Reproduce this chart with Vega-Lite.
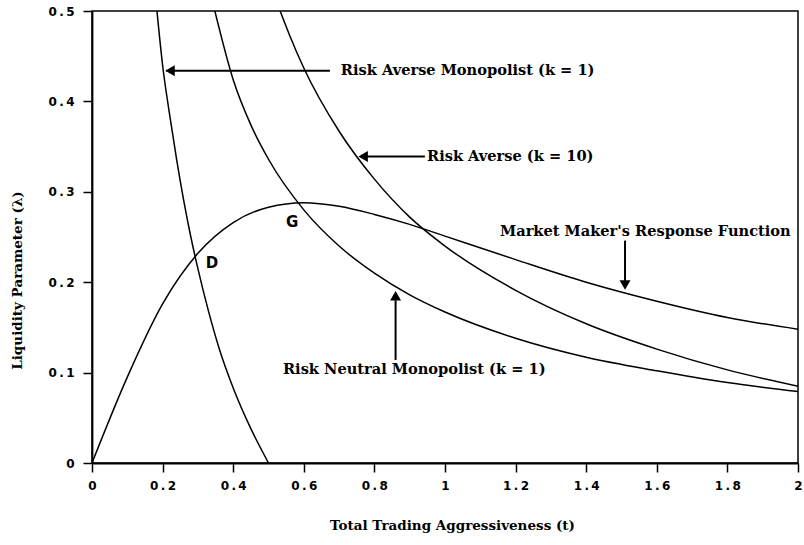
{
  "$schema": "https://vega.github.io/schema/vega-lite/v6.json",
  "width": 706,
  "height": 452,
  "autosize": {"type": "none"},
  "padding": {"left": 92, "top": 11, "right": 6, "bottom": 82},
  "background": "white",
  "config": {
    "view": {"stroke": "black", "strokeWidth": 1.5},
    "axis": {
      "domainColor": "black", "domainWidth": 1.8,
      "tickColor": "black", "tickWidth": 1.5, "tickSize": 9,
      "grid": false,
      "labelFont": "DejaVu Sans", "labelFontSize": 12, "labelFontWeight": "bold", "labelColor": "black",
      "titleFont": "DejaVu Serif", "titleFontSize": 13.5, "titleFontWeight": "bold", "titleColor": "black"
    }
  },
  "datasets": {
    "curves": [
      {"c": "A", "t": 0.184, "l": 0.5}, {"c": "A", "t": 0.2, "l": 0.44}, {"c": "A", "t": 0.22, "l": 0.385},
      {"c": "A", "t": 0.24, "l": 0.335}, {"c": "A", "t": 0.26, "l": 0.29}, {"c": "A", "t": 0.28, "l": 0.25},
      {"c": "A", "t": 0.3, "l": 0.215}, {"c": "A", "t": 0.33, "l": 0.168}, {"c": "A", "t": 0.36, "l": 0.127},
      {"c": "A", "t": 0.4, "l": 0.083}, {"c": "A", "t": 0.45, "l": 0.038}, {"c": "A", "t": 0.5, "l": 0.0},
      {"c": "B", "t": 0.348, "l": 0.5}, {"c": "B", "t": 0.4, "l": 0.424}, {"c": "B", "t": 0.45, "l": 0.374},
      {"c": "B", "t": 0.5, "l": 0.336}, {"c": "B", "t": 0.6, "l": 0.28}, {"c": "B", "t": 0.7, "l": 0.24},
      {"c": "B", "t": 0.8, "l": 0.21}, {"c": "B", "t": 0.9, "l": 0.186}, {"c": "B", "t": 1.0, "l": 0.167},
      {"c": "B", "t": 1.2, "l": 0.138}, {"c": "B", "t": 1.4, "l": 0.117}, {"c": "B", "t": 1.6, "l": 0.102},
      {"c": "B", "t": 1.8, "l": 0.089}, {"c": "B", "t": 2.0, "l": 0.079},
      {"c": "C", "t": 0.533, "l": 0.5}, {"c": "C", "t": 0.56, "l": 0.473}, {"c": "C", "t": 0.6, "l": 0.437},
      {"c": "C", "t": 0.7, "l": 0.367}, {"c": "C", "t": 0.8, "l": 0.314}, {"c": "C", "t": 0.9, "l": 0.272},
      {"c": "C", "t": 1.0, "l": 0.24}, {"c": "C", "t": 1.2, "l": 0.191}, {"c": "C", "t": 1.4, "l": 0.154},
      {"c": "C", "t": 1.6, "l": 0.126}, {"c": "C", "t": 1.8, "l": 0.103}, {"c": "C", "t": 2.0, "l": 0.085},
      {"c": "D", "t": 0.0, "l": 0.0}, {"c": "D", "t": 0.1, "l": 0.095}, {"c": "D", "t": 0.2, "l": 0.176},
      {"c": "D", "t": 0.3, "l": 0.232}, {"c": "D", "t": 0.4, "l": 0.266}, {"c": "D", "t": 0.5, "l": 0.283},
      {"c": "D", "t": 0.6, "l": 0.288}, {"c": "D", "t": 0.7, "l": 0.284}, {"c": "D", "t": 0.8, "l": 0.275},
      {"c": "D", "t": 0.9, "l": 0.264}, {"c": "D", "t": 1.0, "l": 0.251}, {"c": "D", "t": 1.2, "l": 0.225},
      {"c": "D", "t": 1.4, "l": 0.2}, {"c": "D", "t": 1.6, "l": 0.179}, {"c": "D", "t": 1.8, "l": 0.161},
      {"c": "D", "t": 2.0, "l": 0.148}
    ],
    "arrows": [
      {"t1": 0.21, "l1": 0.434, "t2": 0.674, "l2": 0.434},
      {"t1": 0.775, "l1": 0.339, "t2": 0.943, "l2": 0.339},
      {"t1": 1.51, "l1": 0.246, "t2": 1.51, "l2": 0.2},
      {"t1": 0.86, "l1": 0.114, "t2": 0.86, "l2": 0.18}
    ],
    "heads": [
      {"dir": "left", "t": 0.221, "l": 0.434},
      {"dir": "left", "t": 0.768, "l": 0.339},
      {"dir": "down", "t": 1.51, "l": 0.197},
      {"dir": "up", "t": 0.86, "l": 0.185}
    ],
    "labels": [
      {"text": "Risk Averse Monopolist (k = 1)", "t": 0.705, "l": 0.434},
      {"text": "Risk Averse (k = 10)", "t": 0.949, "l": 0.339},
      {"text": "Market Maker's Response Function", "t": 1.156, "l": 0.256},
      {"text": "Risk Neutral Monopolist (k = 1)", "t": 0.541, "l": 0.103}
    ],
    "points": [
      {"text": "D", "t": 0.34, "l": 0.221},
      {"text": "G", "t": 0.567, "l": 0.267}
    ]
  },
  "layer": [
    {
      "data": {"name": "curves"},
      "mark": {"type": "line", "color": "black", "strokeWidth": 1.5, "interpolate": "monotone", "clip": true},
      "encoding": {
        "x": {"field": "t", "type": "quantitative", "scale": {"domain": [0, 2], "nice": false},
          "axis": {
            "values": [0, 0.1, 0.2, 0.3, 0.4, 0.5, 0.6, 0.7, 0.8, 0.9, 1, 1.1, 1.2, 1.3, 1.4, 1.5, 1.6, 1.7, 1.8, 1.9, 2],
            "labelExpr": "round(datum.value * 10) % 2 == 0 ? join(split('' + datum.value, ''), '\u2009') : ''",
            "labelPadding": 8, "labelFlush": false, "labelOverlap": false,
            "title": "Total Trading Aggressiveness (t)",
            "titleX": 360, "titleY": 62, "titleBaseline": "middle"
          }},
        "y": {"field": "l", "type": "quantitative", "scale": {"domain": [0, 0.5], "nice": false},
          "axis": {
            "values": [0, 0.1, 0.2, 0.3, 0.4, 0.5],
            "labelExpr": "join(split('' + datum.value, ''), '\u2009')",
            "labelPadding": 9, "labelFlush": false, "labelOverlap": false,
            "title": "Liquidity Parameter (λ)",
            "titleX": -75, "titleY": 269, "titleBaseline": "middle", "titleAngle": -90
          }},
        "detail": {"field": "c"}
      }
    },
    {
      "data": {"name": "arrows"},
      "mark": {"type": "rule", "color": "black", "strokeWidth": 2},
      "encoding": {
        "x": {"field": "t1", "type": "quantitative"},
        "x2": {"field": "t2"},
        "y": {"field": "l1", "type": "quantitative"},
        "y2": {"field": "l2"}
      }
    },
    {
      "data": {"name": "heads"},
      "mark": {"type": "point", "filled": true, "color": "black", "opacity": 1, "size": 120},
      "encoding": {
        "x": {"field": "t", "type": "quantitative"},
        "y": {"field": "l", "type": "quantitative"},
        "shape": {"field": "dir", "type": "nominal", "legend": null,
          "scale": {"domain": ["left", "up", "down"], "range": ["triangle-left", "triangle-up", "triangle-down"]}}
      }
    },
    {
      "data": {"name": "labels"},
      "mark": {"type": "text", "align": "left", "baseline": "middle", "font": "DejaVu Serif", "fontWeight": "bold", "fontSize": 14.6, "color": "black"},
      "encoding": {
        "x": {"field": "t", "type": "quantitative"},
        "y": {"field": "l", "type": "quantitative"},
        "text": {"field": "text"}
      }
    },
    {
      "data": {"name": "points"},
      "mark": {"type": "text", "align": "center", "baseline": "middle", "font": "DejaVu Sans", "fontWeight": "bold", "fontSize": 15, "color": "black"},
      "encoding": {
        "x": {"field": "t", "type": "quantitative"},
        "y": {"field": "l", "type": "quantitative"},
        "text": {"field": "text"}
      }
    }
  ]
}
